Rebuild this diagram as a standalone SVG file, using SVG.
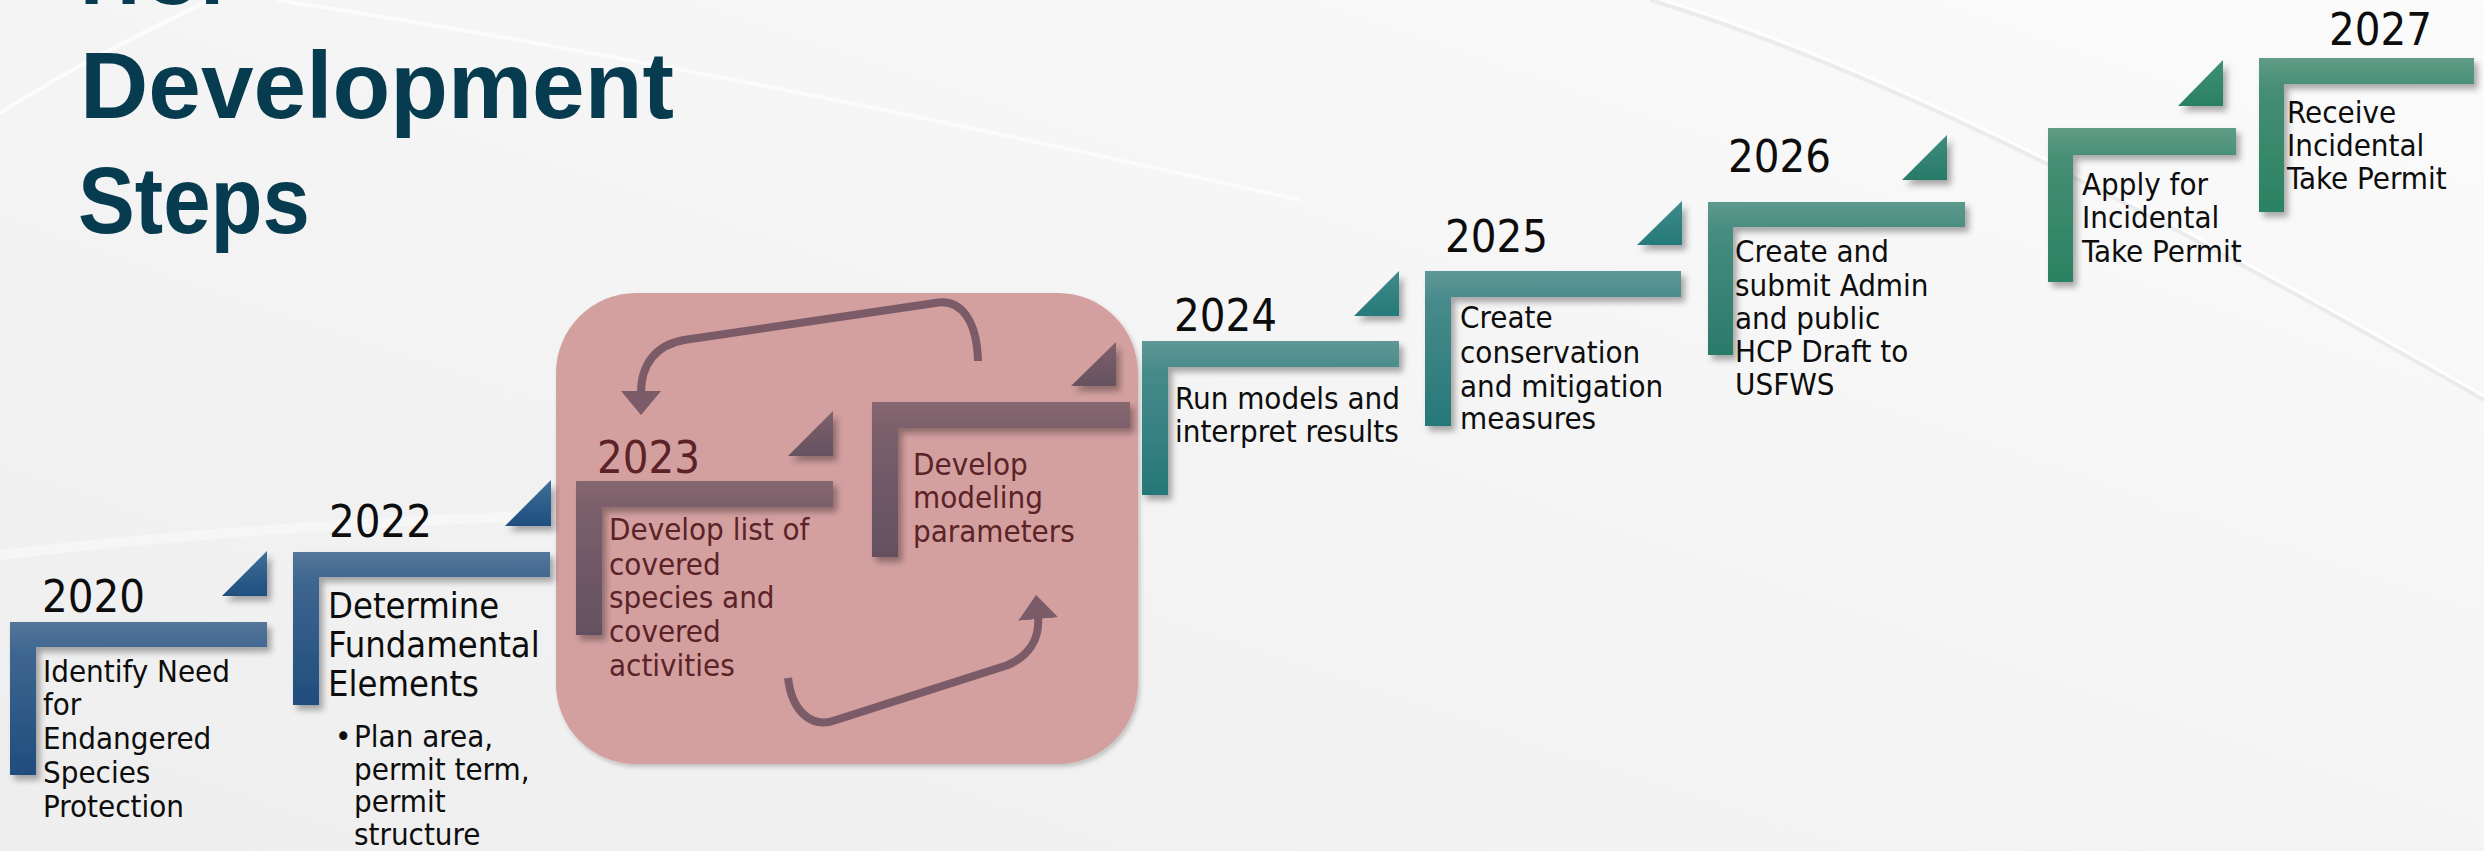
<svg xmlns="http://www.w3.org/2000/svg" width="2484" height="851" viewBox="0 0 2484 851">
<style>
.t{font-family:'DejaVu Sans Condensed','DejaVu Sans',sans-serif;font-stretch:condensed;fill:#0d0d0d}
.yr{font-size:45px}
.b{font-size:31px}
.b0{font-size:31px}
.big{font-size:36px}
.bl{font-size:31px}
.m{fill:#5b2227}
.title{font-family:'Liberation Sans',Arial,sans-serif;font-weight:bold;font-size:94px;fill:#073c50}
.conn{fill:none;stroke:#7a5b67;stroke-width:8}
</style>
<defs>
<linearGradient id="bg" x1="0" y1="1" x2="1" y2="0">
<stop offset="0" stop-color="#eeeeee"/><stop offset="0.5" stop-color="#f4f4f4"/><stop offset="1" stop-color="#fbfbfb"/>
</linearGradient>
<linearGradient id="gBlue" x1="0" y1="0" x2="0" y2="1">
<stop offset="0" stop-color="#55759a"/><stop offset="0.2" stop-color="#3e6690"/><stop offset="1" stop-color="#1f4d7d"/>
</linearGradient>
<linearGradient id="tBlue" x1="0" y1="0" x2="0" y2="1">
<stop offset="0" stop-color="#3f6f98"/><stop offset="1" stop-color="#1e4f80"/>
</linearGradient>
<linearGradient id="gMauve" x1="0" y1="0" x2="0" y2="1">
<stop offset="0" stop-color="#86676f"/><stop offset="0.2" stop-color="#7a5f6b"/><stop offset="1" stop-color="#645060"/>
</linearGradient>
<linearGradient id="tMauve" x1="0" y1="0" x2="0" y2="1">
<stop offset="0" stop-color="#7d606b"/><stop offset="1" stop-color="#665260"/>
</linearGradient>
<linearGradient id="gTeal" x1="0" y1="0" x2="0" y2="1">
<stop offset="0" stop-color="#5f9797"/><stop offset="0.2" stop-color="#478a8b"/><stop offset="1" stop-color="#267878"/>
</linearGradient>
<linearGradient id="tTeal" x1="0" y1="0" x2="0" y2="1">
<stop offset="0" stop-color="#3f8a8a"/><stop offset="1" stop-color="#267a7a"/>
</linearGradient>
<linearGradient id="gTG" x1="0" y1="0" x2="0" y2="1">
<stop offset="0" stop-color="#5e998d"/><stop offset="0.2" stop-color="#468c7f"/><stop offset="1" stop-color="#2a7a6a"/>
</linearGradient>
<linearGradient id="tTG" x1="0" y1="0" x2="0" y2="1">
<stop offset="0" stop-color="#3f8c7e"/><stop offset="1" stop-color="#287a6a"/>
</linearGradient>
<linearGradient id="gGreen" x1="0" y1="0" x2="0" y2="1">
<stop offset="0" stop-color="#609c86"/><stop offset="0.2" stop-color="#468e74"/><stop offset="1" stop-color="#2a8262"/>
</linearGradient>
<linearGradient id="tGreen" x1="0" y1="0" x2="0" y2="1">
<stop offset="0" stop-color="#3f9076"/><stop offset="1" stop-color="#2a8062"/>
</linearGradient>
<filter id="sh" x="-20%" y="-20%" width="150%" height="150%">
<feDropShadow dx="4" dy="5" stdDeviation="3" flood-color="#000" flood-opacity="0.33"/>
</filter>
<filter id="sh2" x="-10%" y="-10%" width="130%" height="130%">
<feDropShadow dx="2" dy="3" stdDeviation="2" flood-color="#000" flood-opacity="0.2"/>
</filter>
<marker id="ah" markerUnits="userSpaceOnUse" markerWidth="44" markerHeight="44" refX="2" refY="22" orient="auto" viewBox="0 0 44 44">
<path d="M0,2 L24,22 L0,42 Z" fill="#7a5b67"/>
</marker>
</defs>

<rect width="2484" height="851" fill="url(#bg)"/>
<g id="background-curves" fill="none">
<path d="M0,113 C60,75 130,38 210,0" stroke="#ffffff" stroke-width="4" opacity="0.7"/>
<path d="M277,0 C600,50 900,110 1300,200" stroke="#ffffff" stroke-width="4" opacity="0.6"/>
<path d="M1650,0 C1850,60 2100,180 2484,400" stroke="#e3e3e3" stroke-width="4" opacity="0.6"/>
<path d="M1650,-4 C1850,56 2100,176 2484,396" stroke="#ffffff" stroke-width="3" opacity="0.8"/>
<path d="M0,555 C300,520 700,500 1100,520" stroke="#ffffff" stroke-width="10" opacity="0.4"/>
</g>

<g id="title">
<text class="title" x="80" y="4" textLength="176" lengthAdjust="spacingAndGlyphs">HCP</text>
<text class="title" x="80" y="118" textLength="594" lengthAdjust="spacingAndGlyphs">Development</text>
<text class="title" x="78" y="233" textLength="232" lengthAdjust="spacingAndGlyphs">Steps</text>
</g>

<g id="iteration-box">
<rect x="556" y="293" width="582" height="471" rx="80" ry="80" fill="#d39f9f" filter="url(#sh2)"/>
</g>

<g id="step-2020">
<path d="M10,622 H267 V647 H36 V775 H10 Z" fill="url(#gBlue)" filter="url(#sh)"/>
<path d="M222,596 H267 V551 Z" fill="url(#tBlue)" filter="url(#sh)"/>
<text class="t yr" x="42" y="612">2020</text>
<text class="t b0" x="43" y="682">Identify Need</text>
<text class="t b0" x="43" y="715">for</text>
<text class="t b0" x="43" y="749">Endangered</text>
<text class="t b0" x="43" y="783">Species</text>
<text class="t b0" x="43" y="817">Protection</text>
</g>

<g id="step-2022">
<path d="M293,552 H550 V577 H319 V705 H293 Z" fill="url(#gBlue)" filter="url(#sh)"/>
<path d="M505,526 H551 V480 Z" fill="url(#tBlue)" filter="url(#sh)"/>
<text class="t yr" x="329" y="537">2022</text>
<text class="t big" x="328" y="618">Determine</text>
<text class="t big" x="328" y="657">Fundamental</text>
<text class="t big" x="328" y="696">Elements</text>
<text class="t bl" x="335" y="747">•</text>
<text class="t bl" x="354" y="747">Plan area,</text>
<text class="t bl" x="354" y="780">permit term,</text>
<text class="t bl" x="354" y="812">permit</text>
<text class="t bl" x="354" y="845">structure</text>
</g>

<g id="step-2023">
<path d="M576,481 H833 V507 H602 V635 H576 Z" fill="url(#gMauve)" filter="url(#sh)"/>
<path d="M788,456 H833 V411 Z" fill="url(#tMauve)" filter="url(#sh)"/>
<text class="t yr m" x="597" y="473">2023</text>
<text class="t b m" x="609" y="540">Develop list of</text>
<text class="t b m" x="609" y="575">covered</text>
<text class="t b m" x="609" y="608">species and</text>
<text class="t b m" x="609" y="642">covered</text>
<text class="t b m" x="609" y="676">activities</text>
</g>

<g id="step-modeling">
<path d="M872,402 H1130 V428 H898 V557 H872 Z" fill="url(#gMauve)" filter="url(#sh)"/>
<path d="M1071,386 H1116 V342 Z" fill="url(#tMauve)" filter="url(#sh)"/>
<text class="t b m" x="913" y="475">Develop</text>
<text class="t b m" x="913" y="508">modeling</text>
<text class="t b m" x="913" y="542">parameters</text>
</g>

<g id="connectors">
<path class="conn" d="M978,361 C977,322 962,298 935,303 L684,340 C656,345 641,364 641,393" marker-end="url(#ah)"/>
<path class="conn" d="M788,678 C792,712 812,729 836,720 L1008,665 C1028,656 1040,640 1038,617" marker-end="url(#ah)"/>
</g>

<g id="step-2024">
<path d="M1142,341 H1399 V367 H1168 V495 H1142 Z" fill="url(#gTeal)" filter="url(#sh)"/>
<path d="M1354,316 H1399 V271 Z" fill="url(#tTeal)" filter="url(#sh)"/>
<text class="t yr" x="1174" y="331">2024</text>
<text class="t b" x="1175" y="409">Run models and</text>
<text class="t b" x="1175" y="442">interpret results</text>
</g>

<g id="step-2025">
<path d="M1425,271 H1681 V297 H1451 V426 H1425 Z" fill="url(#gTeal)" filter="url(#sh)"/>
<path d="M1637,245 H1682 V201 Z" fill="url(#tTeal)" filter="url(#sh)"/>
<text class="t yr" x="1445" y="252">2025</text>
<text class="t b" x="1460" y="328">Create</text>
<text class="t b" x="1460" y="363">conservation</text>
<text class="t b" x="1460" y="397">and mitigation</text>
<text class="t b" x="1460" y="429">measures</text>
</g>

<g id="step-2026">
<path d="M1708,202 H1965 V227 H1733 V355 H1708 Z" fill="url(#gTG)" filter="url(#sh)"/>
<path d="M1902,180 H1947 V135 Z" fill="url(#tTG)" filter="url(#sh)"/>
<text class="t yr" x="1728" y="172">2026</text>
<text class="t b" x="1735" y="262">Create and</text>
<text class="t b" x="1735" y="296">submit Admin</text>
<text class="t b" x="1735" y="329">and public</text>
<text class="t b" x="1735" y="362">HCP Draft to</text>
<text class="t b" x="1735" y="395">USFWS</text>
</g>

<g id="step-apply">
<path d="M2048,128 H2236 V155 H2073 V282 H2048 Z" fill="url(#gGreen)" filter="url(#sh)"/>
<path d="M2178,106 H2223 V60 Z" fill="url(#tGreen)" filter="url(#sh)"/>
<text class="t b" x="2082" y="195">Apply for</text>
<text class="t b" x="2082" y="228">Incidental</text>
<text class="t b" x="2082" y="262">Take Permit</text>
</g>

<g id="step-2027">
<path d="M2259,58 H2474 V84 H2284 V212 H2259 Z" fill="url(#gGreen)" filter="url(#sh)"/>
<text class="t yr" x="2329" y="45">2027</text>
<text class="t b" x="2287" y="123">Receive</text>
<text class="t b" x="2287" y="156">Incidental</text>
<text class="t b" x="2287" y="189">Take Permit</text>
</g>
</svg>
